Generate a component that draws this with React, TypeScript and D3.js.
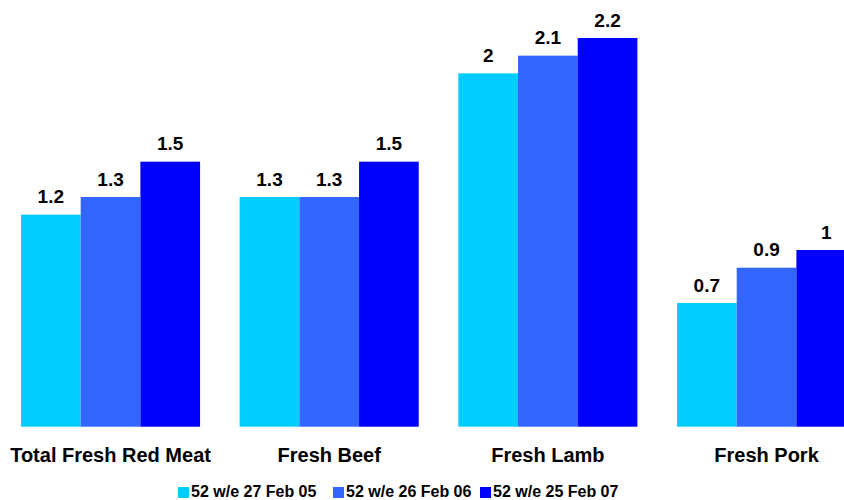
import React from "react";
import * as d3 from "d3";

const categories = ["Total Fresh Red Meat", "Fresh Beef", "Fresh Lamb", "Fresh Pork"];
const seriesNames = ["52 w/e 27 Feb 05", "52 w/e 26 Feb 06", "52 w/e 25 Feb 07"];
const series05 = [1.2, 1.3, 2.0, 0.7];
const series06 = [1.3, 1.3, 2.1, 0.9];
const series07 = [1.5, 1.5, 2.2, 1.0];
const colors = ["#00CCFF", "#3366FF", "#0000FF"];

const W = 844;
const H = 500;
const FONT = "Arial, 'Liberation Sans', sans-serif";

export default function App() {
  const seriesValues = [series05, series06, series07];
  const x0 = d3
    .scaleBand<string>()
    .domain(categories)
    .range([1.2, 1.2 + 4 * 218.67])
    .paddingInner(0.181)
    .paddingOuter(0.0905);
  const x1 = d3
    .scaleBand<string>()
    .domain(seriesNames)
    .range([0, x0.bandwidth()])
    .padding(0);
  const y = d3.scaleLinear().domain([0, 2.2]).range([426.7, 38]);

  const legendStarts = [178, 333, 480];

  return (
    <div style={{ position: "absolute", left: 0, top: 0 }}>
      <svg width={W} height={H} style={{ display: "block", background: "#fff" }}>
        {categories.map((c, ci) => (
          <g key={c} transform={`translate(${x0(c)},0)`}>
            {seriesNames.map((s, si) => {
              const v = seriesValues[si][ci];
              const bx = x1(s)!;
              return (
                <g key={s}>
                  <rect
                    x={bx}
                    y={y(v)}
                    width={x1.bandwidth()}
                    height={y(0) - y(v)}
                    fill={colors[si]}
                  />
                  <text
                    x={bx + x1.bandwidth() / 2}
                    y={y(v) - 11.5}
                    textAnchor="middle"
                    fontFamily={FONT}
                    fontWeight="bold"
                    fontSize={19}
                    fill="#000"
                  >
                    {d3.format("")(v)}
                  </text>
                </g>
              );
            })}
            <text
              x={x0.bandwidth() / 2}
              y={461.7}
              textAnchor="middle"
              fontFamily={FONT}
              fontWeight="bold"
              fontSize={20}
              fill="#000"
            >
              {c}
            </text>
          </g>
        ))}
        {seriesNames.map((s, si) => (
          <g key={s} transform={`translate(${legendStarts[si]},0)`}>
            <rect x={0} y={487} width={11} height={11} fill={colors[si]} />
            <text
              x={13}
              y={497}
              fontFamily={FONT}
              fontWeight="bold"
              fontSize={16}
              fill="#000"
            >
              {s}
            </text>
          </g>
        ))}
      </svg>
    </div>
  );
}
